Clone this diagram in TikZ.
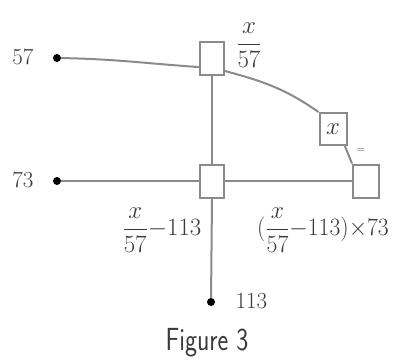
\documentclass[tikz,border=0pt]{standalone}
\usepackage{amsmath}
\definecolor{dl}{HTML}{8a8a8a}
\definecolor{dt}{HTML}{3a3a3a}
\tikzset{
  sq/.style={draw=dl,line width=2pt,fill=white,minimum width=24pt,minimum height=33pt,inner sep=0pt},
  pin/.style={circle,fill=black,inner sep=0pt,minimum size=8pt},
  wire/.style={dl,line width=2pt},
  lab/.style={text=dt,font=\fontsize{23}{26}\selectfont},
}

\begin{document}
\begin{tikzpicture}[x=1pt,y=1pt]
  \useasboundingbox (0,0) rectangle (399,360);

  % Terminals
  \node[pin] (p57) at (57,302) {};
  \node[pin] (p73) at (57,179) {};
  \node[pin] (p113) at (211,58) {};
  \node[lab,anchor=east] (l57) at (37,303) {57};
  \node[lab,anchor=east] (l73) at (37,180) {73};
  \node[lab,anchor=west] (l113) at (232,59) {113};

  % Boxes
  \node[sq] (top) at (212,302) {};
  \node[sq] (mid) at (212,179) {};
  \node[sq,minimum width=26pt] (rgt) at (366,179) {};
  \node[sq,minimum width=27pt,minimum height=32pt,lab] (xb) at (333,231) {$x$};

  % Wires
  \draw[wire] (p57) to[out=-1,in=176] (top.215);
  \draw[wire] (top.-45) to[out=-15,in=145] (xb.north west);
  \draw[wire] (xb.-55) -- (rgt.north west);
  \draw[wire] (top.south) -- (mid.north);
  \draw[wire] (mid.south) -- (p113);
  \draw[wire] (p73) -- (mid.west);
  \draw[wire] (mid.east) -- (rgt.west);

  % Values on the wires
  \node[lab] (q1) at (249,315) {$\dfrac{x}{57}$};
  \node[lab,font=\fontsize{11}{12}\selectfont] (eq) at (361,210) {$=$};
  \node[lab] (q2) at (162,130) {$\dfrac{x}{57}{-}113$};
  \node[lab,xscale=0.95] (q3) at (323,130) {$(\dfrac{x}{57}{-}113){\times}73$};

  % Caption
  \node[text=dt,font=\sffamily\fontsize{32}{34}\selectfont,xscale=0.8] (cap) at (207,17) {Figure 3};
\end{tikzpicture}
\end{document}
